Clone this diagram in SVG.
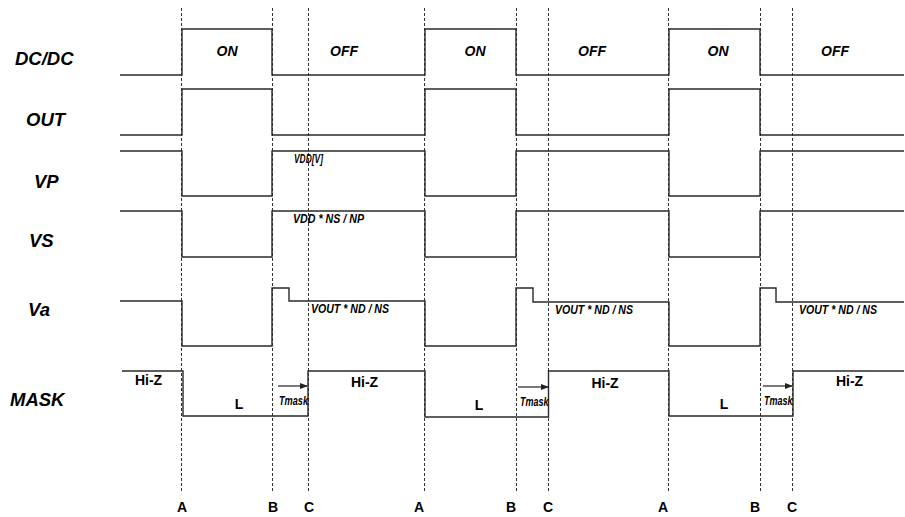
<svg xmlns="http://www.w3.org/2000/svg" width="905" height="517" viewBox="0 0 905 517">
<style>
.bg{fill:#ffffff}
.wave{fill:none;stroke:#2a2a2a;stroke-width:1.4}
.guide{stroke:#333;stroke-width:1;stroke-dasharray:3 2;fill:none}
.sig{font-family:"Liberation Sans",Arial,sans-serif;font-weight:bold;font-style:italic;font-size:18.5px;fill:#000}
.state{font-family:"Liberation Sans",Arial,sans-serif;font-weight:bold;font-style:italic;font-size:14px;fill:#000;text-anchor:middle}
.small{font-family:"Liberation Sans",Arial,sans-serif;font-weight:bold;font-style:italic;font-size:12px;fill:#000}
.lvl{font-family:"Liberation Sans",Arial,sans-serif;font-weight:bold;font-size:14px;fill:#000;text-anchor:middle}
.arrow{stroke:#222;stroke-width:1.2;fill:none;marker-end:url(#ah)}
</style>
<defs>
<marker id="ah" markerWidth="8" markerHeight="6" refX="7" refY="3" orient="auto" markerUnits="userSpaceOnUse">
<path d="M0,0 L8,3 L0,6 Z" fill="#222"/>
</marker>
</defs>
<rect class="bg" x="0" y="0" width="905" height="517"/>

<g id="guides">
<line class="guide" x1="181.5" y1="8" x2="181.5" y2="493"/>
<line class="guide" x1="272.5" y1="8" x2="272.5" y2="493"/>
<line class="guide" x1="308.5" y1="8" x2="308.5" y2="493"/>
<line class="guide" x1="424.5" y1="8" x2="424.5" y2="493"/>
<line class="guide" x1="516.5" y1="8" x2="516.5" y2="493"/>
<line class="guide" x1="548.5" y1="8" x2="548.5" y2="493"/>
<line class="guide" x1="668.5" y1="8" x2="668.5" y2="493"/>
<line class="guide" x1="760.5" y1="8" x2="760.5" y2="493"/>
<line class="guide" x1="792.5" y1="8" x2="792.5" y2="493"/>
</g>

<g id="dcdc">
<text class="sig" x="15" y="65">DC/DC</text>
<path class="wave" d="M120,75 H182 V29 H272 V75 H425 V29 H516 V75 H669 V29 H760 V75 H904"/>
<text class="state" x="227" y="56">ON</text>
<text class="state" x="344" y="56">OFF</text>
<text class="state" x="475" y="56">ON</text>
<text class="state" x="592" y="56">OFF</text>
<text class="state" x="718" y="56">ON</text>
<text class="state" x="835" y="56">OFF</text>
</g>

<g id="out">
<text class="sig" x="26" y="126">OUT</text>
<path class="wave" d="M120,135 H182 V89 H272 V135 H425 V89 H516 V135 H669 V89 H760 V135 H904"/>
</g>

<g id="vp">
<text class="sig" x="34" y="188">VP</text>
<path class="wave" d="M120,151 H182 V196 H272 V151 H425 V196 H516 V151 H669 V196 H760 V151 H904"/>
<text class="small" x="294" y="163" textLength="29" lengthAdjust="spacingAndGlyphs">VDD[V]</text>
</g>

<g id="vs">
<text class="sig" x="29" y="247">VS</text>
<path class="wave" d="M120,211 H182 V257 H272 V211 H425 V257 H516 V211 H669 V257 H760 V211 H904"/>
<text class="small" x="293" y="223" textLength="71" lengthAdjust="spacingAndGlyphs">VDD * NS / NP</text>
</g>

<g id="va">
<text class="sig" x="28" y="316">Va</text>
<path class="wave" d="M120,301 H182 V346 H272 V288 H289 V301 H425 V346 H516 V288 H533 V302 H669 V346 H760 V288 H776 V302 H904"/>
<text class="small" x="311" y="313" textLength="78" lengthAdjust="spacingAndGlyphs">VOUT * ND / NS</text>
<text class="small" x="555" y="314" textLength="78" lengthAdjust="spacingAndGlyphs">VOUT * ND / NS</text>
<text class="small" x="799" y="314" textLength="78" lengthAdjust="spacingAndGlyphs">VOUT * ND / NS</text>
</g>

<g id="mask">
<text class="sig" x="10" y="406">MASK</text>
<path class="wave" d="M122,371 H183 V416 H308 V371 H425 V417 H548.5 V371 H669 V416 H793 V371 H904"/>
<text class="lvl" x="148.5" y="385">Hi-Z</text>
<text class="lvl" x="364.5" y="387">Hi-Z</text>
<text class="lvl" x="605" y="388">Hi-Z</text>
<text class="lvl" x="849.5" y="386">Hi-Z</text>
<text class="lvl" x="239" y="409">L</text>
<text class="lvl" x="479" y="410">L</text>
<text class="lvl" x="724" y="409">L</text>
<text class="small" x="279" y="405" font-size="10" textLength="29" lengthAdjust="spacingAndGlyphs">Tmask</text>
<text class="small" x="520" y="406" font-size="10" textLength="28.5" lengthAdjust="spacingAndGlyphs">Tmask</text>
<text class="small" x="764" y="405" font-size="10" textLength="28.5" lengthAdjust="spacingAndGlyphs">Tmask</text>
</g>

<g id="connectors">
<line class="arrow" x1="278" y1="386" x2="307" y2="386"/>
<line class="arrow" x1="518" y1="387" x2="548" y2="387"/>
<line class="arrow" x1="763" y1="386" x2="792" y2="386"/>
</g>

<g id="markers">
<text class="lvl" x="182" y="512">A</text>
<text class="lvl" x="273" y="512">B</text>
<text class="lvl" x="309" y="512">C</text>
<text class="lvl" x="419" y="512">A</text>
<text class="lvl" x="511" y="512">B</text>
<text class="lvl" x="548" y="512">C</text>
<text class="lvl" x="663" y="512">A</text>
<text class="lvl" x="755" y="512">B</text>
<text class="lvl" x="792" y="512">C</text>
</g>
</svg>
